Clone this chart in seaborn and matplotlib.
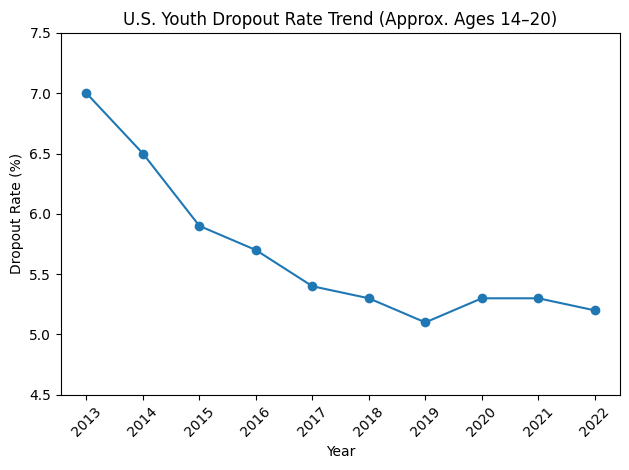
import matplotlib
matplotlib.use("Agg")
import matplotlib.pyplot as plt
import seaborn as sns
import pandas as pd

years = [2013, 2014, 2015, 2016, 2017, 2018, 2019, 2020, 2021, 2022]
dropout_rates = [7.0, 6.5, 5.9, 5.7, 5.4, 5.3, 5.1, 5.3, 5.3, 5.2]

df = pd.DataFrame({"Year": years, "Dropout Rate (%)": dropout_rates})

fig, ax = plt.subplots(figsize=(6.29, 4.70), dpi=100)
sns.lineplot(data=df, x="Year", y="Dropout Rate (%)", marker="o", markersize=7,
             markeredgewidth=0, color="#1f77b4", ax=ax)

ax.set_title("U.S. Youth Dropout Rate Trend (Approx. Ages 14\u201320)")
ax.set_xticks(years)
ax.set_xticklabels([str(y) for y in years], rotation=45)
ax.set_ylim(4.5, 7.5)

# match the reference's tight margins
fig.subplots_adjust(left=0.097, right=0.986, top=0.930, bottom=0.160)
plt.savefig("out.png", dpi=100)
plt.close()
